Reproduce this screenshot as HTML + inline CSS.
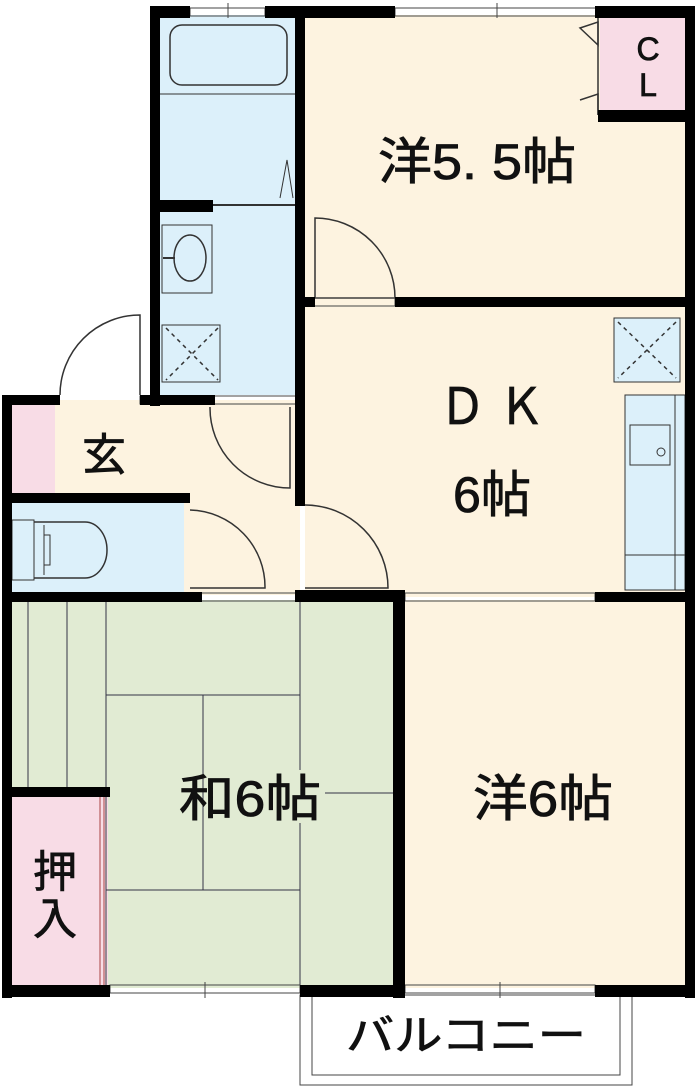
<!DOCTYPE html>
<html><head><meta charset="utf-8"><style>
body{margin:0;background:#fff;}
svg{display:block;}
text{font-family:"Liberation Sans","Noto Sans CJK JP",sans-serif;fill:#111;}
</style></head><body>
<svg width="700" height="1090" viewBox="0 0 700 1090" xmlns="http://www.w3.org/2000/svg">
<rect x="160" y="15" width="138" height="380" fill="#dcf0fa"/>
<rect x="305" y="15" width="385" height="290" fill="#fdf3e0"/>
<rect x="600" y="15" width="88" height="100" fill="#f8dce6"/>
<rect x="305" y="305" width="385" height="292" fill="#fdf3e0"/>
<rect x="10" y="400" width="290" height="195" fill="#fdf3e0"/>
<rect x="12" y="405" width="43" height="90" fill="#f8dce6"/>
<rect x="12" y="503" width="172" height="90" fill="#dcf0fa"/>
<rect x="12" y="600" width="385" height="388" fill="#e1ebd3"/>
<rect x="12" y="795" width="96" height="192" fill="#f8dce6"/>
<rect x="400" y="600" width="288" height="388" fill="#fdf3e0"/>
<rect x="614" y="318" width="66" height="64" fill="#dcf0fa" stroke="#333" stroke-width="1"/>
<path d="M618 322 L676 378 M676 322 L618 378" stroke="#333" stroke-width="1.5" stroke-dasharray="4,4"/>
<rect x="625" y="395" width="60" height="195" fill="#dcf0fa" stroke="#333" stroke-width="1"/>
<line x1="675" y1="395" x2="675" y2="590" stroke="#333" stroke-width="1"/>
<line x1="625" y1="555" x2="685" y2="555" stroke="#333" stroke-width="1"/>
<rect x="630" y="425" width="40" height="40" fill="none" stroke="#333" stroke-width="1"/>
<circle cx="661" cy="452" r="4" fill="none" stroke="#333"/>
<rect x="170" y="25" width="117" height="60" rx="12" fill="none" stroke="#333" stroke-width="1.5"/>
<line x1="160" y1="94" x2="295" y2="94" stroke="#333" stroke-width="1"/>
<path d="M280 198 L287 160 L293 198" fill="none" stroke="#333" stroke-width="1"/>
<line x1="213" y1="205" x2="295" y2="205" stroke="#333" stroke-width="2"/>
<rect x="162" y="225" width="50" height="68" fill="none" stroke="#333" stroke-width="1"/>
<ellipse cx="190" cy="258" rx="16" ry="23" fill="none" stroke="#333" stroke-width="1.5"/>
<line x1="163" y1="258" x2="175" y2="258" stroke="#333" stroke-width="2"/>
<rect x="162" y="325" width="58" height="57" fill="none" stroke="#333" stroke-width="1"/>
<path d="M166 328 L218 380 M218 328 L166 380" stroke="#333" stroke-width="1.5" stroke-dasharray="4,4"/>
<rect x="12" y="520" width="22" height="60" fill="none" stroke="#333" stroke-width="1"/>
<path d="M34 522 H85 A22 28 0 0 1 85 578 H34" fill="none" stroke="#333" stroke-width="1.5"/>
<path d="M44 525 V575 M44 535 H50 V565 H44" fill="none" stroke="#333" stroke-width="1"/>
<g stroke="#334" stroke-width="1" fill="none">
<line x1="28" y1="602" x2="28" y2="790"/><line x1="67" y1="602" x2="67" y2="790"/>
<line x1="106" y1="602" x2="106" y2="988"/>
<line x1="300" y1="602" x2="300" y2="770"/><line x1="300" y1="823" x2="300" y2="988"/>
<line x1="106" y1="695" x2="300" y2="695"/><line x1="106" y1="890" x2="300" y2="890"/>
<line x1="203" y1="695" x2="203" y2="890"/><line x1="325" y1="793" x2="393" y2="793"/>
<line x1="100" y1="797" x2="100" y2="988" stroke="#a44"/><line x1="104" y1="797" x2="104" y2="988" stroke="#a44"/>
</g>
<g stroke="#333" stroke-width="1.5" fill="none">
<path d="M60 395 A80 80 0 0 1 140 315 V395"/>
<path d="M210 407 A80 80 0 0 0 290 488 V407"/>
<path d="M190 510 A77 77 0 0 1 265 588 H190"/>
<path d="M305 505 A83 83 0 0 1 388 588 H305"/>
<path d="M315 218 A80 80 0 0 1 395 298 H315 Z"/>
<path d="M580 28 L598 22 V45 Z M580 100 L598 94 V115"/>
<line x1="598" y1="15" x2="598" y2="115"/>
</g>
<g stroke="#444" stroke-width="1" fill="none">
<rect x="190" y="8" width="75" height="8"/><line x1="228" y1="3" x2="228" y2="18"/>
<rect x="395" y="8" width="205" height="8"/><line x1="497" y1="3" x2="497" y2="18"/>
<rect x="110" y="985" width="190" height="8"/><line x1="205" y1="982" x2="205" y2="998"/>
<rect x="405" y="985" width="190" height="8"/><line x1="500" y1="982" x2="500" y2="998"/>
<rect x="300" y="995" width="332" height="90"/><rect x="312" y="995" width="308" height="80"/>
<rect x="140" y="396" width="160" height="8"/><rect x="190" y="593" width="110" height="8"/><rect x="405" y="593" width="190" height="8"/><rect x="305" y="298" width="90" height="8"/>
</g>
<g fill="#000">
<rect x="150" y="6" width="10" height="400"/>
<rect x="150" y="6" width="40" height="12"/><rect x="265" y="6" width="130" height="12"/>
<rect x="595" y="6" width="100" height="12"/>
<rect x="295" y="6" width="10" height="500"/>
<rect x="685" y="6" width="10" height="992"/>
<rect x="598" y="110" width="95" height="12"/>
<rect x="395" y="297" width="298" height="10"/>
<rect x="305" y="297" width="10" height="10"/>
<rect x="160" y="200" width="53" height="12"/>
<rect x="2" y="395" width="10" height="603"/>
<rect x="2" y="395" width="58" height="10"/><rect x="140" y="395" width="75" height="10"/>
<rect x="2" y="493" width="188" height="10"/>
<rect x="2" y="592" width="200" height="10"/><rect x="295" y="590" width="110" height="12"/><rect x="595" y="592" width="98" height="10"/>
<rect x="393" y="592" width="12" height="406"/>
<rect x="2" y="787" width="108" height="10"/>
<rect x="2" y="985" width="108" height="12"/><rect x="300" y="985" width="105" height="12"/><rect x="595" y="985" width="98" height="12"/>
</g>
<g stroke="#111" stroke-width="0.8">
<text x="477" y="179" font-size="50" text-anchor="middle" textLength="198" lengthAdjust="spacingAndGlyphs">洋5. 5帖</text>
<text x="648" y="60" font-size="32" text-anchor="middle">C</text>
<text x="648" y="96" font-size="32" text-anchor="middle">L</text>
<text x="492" y="424" font-size="50" text-anchor="middle" textLength="105" lengthAdjust="spacingAndGlyphs">Ｄ Ｋ</text>
<text x="492" y="512" font-size="50" text-anchor="middle" textLength="78" lengthAdjust="spacingAndGlyphs">6帖</text>
<text x="104" y="470" font-size="44" text-anchor="middle">玄</text>
<text x="250" y="816" font-size="50" text-anchor="middle" textLength="142" lengthAdjust="spacingAndGlyphs">和6帖</text>
<text x="543" y="816" font-size="50" text-anchor="middle" textLength="140" lengthAdjust="spacingAndGlyphs">洋6帖</text>
<text x="55" y="887" font-size="44" text-anchor="middle">押</text>
<text x="55" y="934" font-size="44" text-anchor="middle">入</text>
<text x="466" y="1050" font-size="42" text-anchor="middle" textLength="240" lengthAdjust="spacingAndGlyphs">バルコニー</text>
</g>
</svg>
</body></html>
